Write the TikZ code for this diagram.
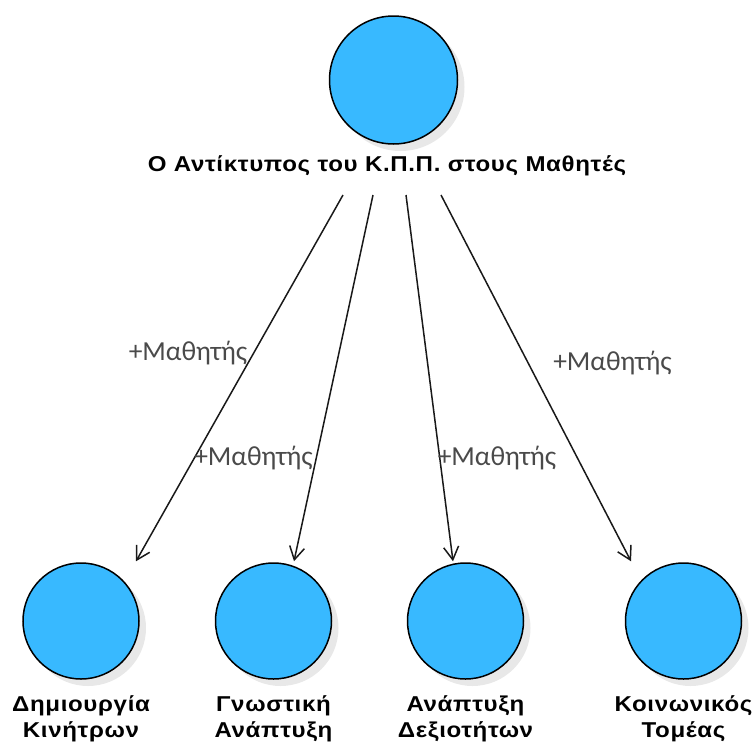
\documentclass[tikz,border=0pt]{standalone}
\usepackage{fontspec}
\setmainfont{Liberation Sans}
\newfontfamily\capfont[FakeStretch=1.12,LetterSpace=3]{Liberation Sans}
\newfontfamily\edgefont{Carlito}
\usetikzlibrary{arrows.meta,shadows}
\definecolor{usecase}{HTML}{38B9FF}
\definecolor{edgetext}{HTML}{4A4A4A}
\begin{document}
\begin{tikzpicture}[x=1pt,y=-1pt,
  actor/.style={circle, draw=black, line width=1.5pt, fill=usecase, inner sep=0pt,
    drop shadow={shadow xshift=7pt, shadow yshift=-7pt, opacity=0.09, fill=black}},
  caption/.style={font=\capfont\bfseries\fontsize{21.5}{25.5}\selectfont, align=center, inner sep=0pt},
  role/.style={font=\edgefont\fontsize{27.5}{32}\selectfont, text=edgetext, inner sep=0pt},
  assoc/.style={draw=black!90, line width=1.5pt, -{Straight Barb[length=13pt,width=15pt,line width=1.5pt]}}]
\useasboundingbox (0,0) rectangle (756,742);

% source use case and its caption
\node[actor, minimum size=128pt] (top) at (393.5,80) {};
\node[caption] (title) at (387,166) {Ο Αντίκτυπος του Κ.Π.Π. στους Μαθητές};

% target use cases
\node[actor, minimum size=116pt] (d1) at (81,621) {};
\node[actor, minimum size=116pt] (d2) at (273.5,621) {};
\node[actor, minimum size=116pt] (d3) at (465.5,621) {};
\node[actor, minimum size=116pt] (d4) at (683.5,621) {};

\node[caption] (t1) at (81,719) {Δημιουργία\\Κινήτρων};
\node[caption] (t2) at (273.5,719) {Γνωστική\\Ανάπτυξη};
\node[caption] (t3) at (465.5,719) {Ανάπτυξη\\Δεξιοτήτων};
\node[caption] (t4) at (683.5,719) {Κοινωνικός\\Τομέας};

% associations
\draw[assoc] ([xshift=-50.5pt,yshift=-115pt]top.center) -- ([xshift=55pt,yshift=1pt]d1.north);
\draw[assoc] ([xshift=-20.5pt,yshift=-115pt]top.center) -- ([xshift=20.5pt,yshift=1pt]d2.north);
\draw[assoc] ([xshift=12.5pt,yshift=-115pt]top.center) -- ([xshift=-12.5pt,yshift=1pt]d3.north);
\draw[assoc] ([xshift=47.5pt,yshift=-115pt]top.center) -- ([xshift=-52.5pt,yshift=1pt]d4.north);

% role labels
\node[role] (r1) at (188,353) {+Μαθητής};
\node[role] (r2) at (253.5,458) {+Μαθητής};
\node[role] (r3) at (497,458) {+Μαθητής};
\node[role] (r4) at (612.5,363) {+Μαθητής};
\end{tikzpicture}
\end{document}
